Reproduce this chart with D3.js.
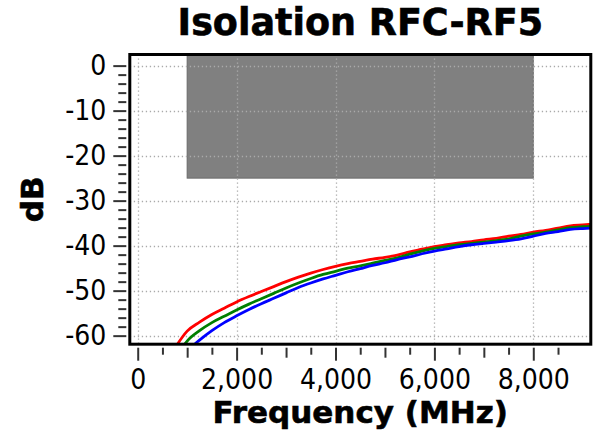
<!DOCTYPE html>
<html>
<head>
<meta charset="utf-8">
<script src="https://cdn.jsdelivr.net/npm/d3@7"></script>
<style>
  html, body { margin: 0; padding: 0; background: #fff; }
  svg { display: block; }
  .tick-label { font-family: 'DejaVu Sans Condensed', 'DejaVu Sans', sans-serif; font-stretch: condensed; font-size: 28px; fill: #000; }
  .title { font-family: 'DejaVu Sans', sans-serif; font-weight: bold; fill: #000; stroke: #000; stroke-width: 0.6px; }
</style>
</head>
<body>
<script>
// Measured isolation (dB) versus frequency (MHz) for three paths
const freqRed = [750, 1000, 1250, 1500, 1750, 2000, 2250, 2500, 2750, 3000, 3250, 3500, 3750, 4000, 4250, 4500, 4750, 5000, 5250, 5500, 5750, 6000, 6250, 6500, 6750, 7000, 7250, 7500, 7750, 8000, 8250, 8500, 8750, 9000, 9250];
const isoRed = [-62.8, -59.0, -57.0, -55.3, -53.9, -52.5, -51.3, -50.2, -49.1, -48.0, -47.0, -46.1, -45.3, -44.6, -44.0, -43.5, -43.0, -42.6, -42.1, -41.4, -40.8, -40.2, -39.8, -39.4, -39.1, -38.7, -38.4, -37.9, -37.5, -37.0, -36.6, -36.1, -35.6, -35.4, -35.2];

const freqGreen = [900, 1000, 1250, 1500, 1750, 2000, 2250, 2500, 2750, 3000, 3250, 3500, 3750, 4000, 4250, 4500, 4750, 5000, 5250, 5500, 5750, 6000, 6250, 6500, 6750, 7000, 7250, 7500, 7750, 8000, 8250, 8500, 8750, 9000, 9250];
const isoGreen = [-62.6, -61.2, -58.9, -57.1, -55.7, -54.3, -53.0, -51.8, -50.6, -49.4, -48.3, -47.3, -46.4, -45.7, -45.0, -44.5, -43.9, -43.3, -42.7, -41.9, -41.2, -40.6, -40.2, -39.8, -39.5, -39.2, -38.9, -38.5, -37.9, -37.4, -37.0, -36.5, -36.0, -35.8, -35.7];

const freqBlue = [1100, 1250, 1500, 1750, 2000, 2250, 2500, 2750, 3000, 3250, 3500, 3750, 4000, 4250, 4500, 4750, 5000, 5250, 5500, 5750, 6000, 6250, 6500, 6750, 7000, 7250, 7500, 7750, 8000, 8250, 8500, 8750, 9000, 9250];
const isoBlue = [-62.4, -61.0, -58.9, -57.1, -55.6, -54.2, -52.9, -51.7, -50.5, -49.3, -48.3, -47.4, -46.6, -45.8, -45.1, -44.4, -43.8, -43.1, -42.5, -41.8, -41.2, -40.7, -40.2, -39.8, -39.5, -39.2, -38.9, -38.5, -37.9, -37.3, -36.9, -36.4, -36.2, -36.1];

// Shaded specification region: frequency span and isolation limit
const bandFreq = [1000, 8000];
const bandLevel = [3, -25];

// Axis ticks
const xMajorTicks = [0, 2000, 4000, 6000, 8000];
const xTickLabels = ["0", "2,000", "4,000", "6,000", "8,000"];
const xMidTicks = [1000, 3000, 5000, 7000];
const xMinorTicks = [500, 1500, 2500, 3500, 4500, 5500, 6500, 7500, 8500];
const yMajorTicks = [0, -10, -20, -30, -40, -50, -60];
const yTickLabels = ["0", "-10", "-20", "-30", "-40", "-50", "-60"];
const yMinorTicks = [-2, -4, -6, -8, -12, -14, -16, -18, -22, -24, -26, -28, -32, -34, -36, -38, -42, -44, -46, -48, -52, -54, -56, -58];

const W = 595, H = 440;
const plot = { left: 129.8, right: 590.8, top: 54.5, bottom: 344.2 };

const svg = d3.select("body").append("svg").attr("width", W).attr("height", H);

const x = d3.scaleLinear().domain([-160, 9163]).range([plot.left, plot.right]);
const y = d3.scaleLinear().domain([-61.9, 2.47]).range([plot.bottom, plot.top]);

svg.append("defs").append("clipPath").attr("id", "plot-clip")
  .append("rect")
  .attr("x", plot.left).attr("y", plot.top)
  .attr("width", plot.right - plot.left).attr("height", plot.bottom - plot.top);

const inner = svg.append("g").attr("clip-path", "url(#plot-clip)");

// Specification band
inner.append("rect")
  .attr("x", x(bandFreq[0]))
  .attr("y", y(bandLevel[0]))
  .attr("width", x(bandFreq[1]) - x(bandFreq[0]))
  .attr("height", y(bandLevel[1]) - y(bandLevel[0]))
  .attr("fill", "#808080")
  .attr("stroke", "#6a6a6a")
  .attr("stroke-width", 1);

// Dotted grid
const grid = inner.append("g")
  .attr("stroke", "#aaaaaa")
  .attr("stroke-width", 1.3)
  .attr("stroke-dasharray", "1.3,2.7");
grid.selectAll("line.gx").data(xMajorTicks).join("line")
  .attr("class", "gx")
  .attr("x1", d => Math.round(x(d)) + 0.5).attr("x2", d => Math.round(x(d)) + 0.5)
  .attr("y1", plot.top).attr("y2", plot.bottom);
grid.selectAll("line.gy").data(yMajorTicks).join("line")
  .attr("class", "gy")
  .attr("y1", d => Math.round(y(d)) + 0.5).attr("y2", d => Math.round(y(d)) + 0.5)
  .attr("x1", plot.left).attr("x2", plot.right);

// Measured curves
const series = [
  { f: freqRed, v: isoRed, color: "#ff0000" },
  { f: freqGreen, v: isoGreen, color: "#008000" },
  { f: freqBlue, v: isoBlue, color: "#0000ff" }
];
const line = d3.line().x(d => x(d[0])).y(d => y(d[1])).curve(d3.curveMonotoneX);
series.forEach(s => {
  inner.append("path")
    .datum(d3.zip(s.f, s.v))
    .attr("d", line)
    .attr("fill", "none")
    .attr("stroke", s.color)
    .attr("stroke-width", 2.8)
    .attr("stroke-linejoin", "round");
});

// Frame
svg.append("rect")
  .attr("x", plot.left).attr("y", plot.top)
  .attr("width", plot.right - plot.left).attr("height", plot.bottom - plot.top)
  .attr("fill", "none").attr("stroke", "#000").attr("stroke-width", 3);

// Y axis (ticks set off from the frame)
const yAxisMajor = d3.axisLeft(y).tickValues(yMajorTicks).tickSize(13).tickPadding(7)
  .tickFormat((d, i) => yTickLabels[i]);
const yAxisMinor = d3.axisLeft(y).tickValues(yMinorTicks).tickSize(8).tickFormat("");
const gyMinor = svg.append("g").attr("transform", `translate(${plot.left - 3.5},0)`).call(yAxisMinor);
const gyMajor = svg.append("g").attr("transform", `translate(${plot.left - 3.5},0)`).call(yAxisMajor);

// X axis
const xAxisMajor = d3.axisBottom(x).tickValues(xMajorTicks).tickSize(13).tickPadding(8)
  .tickFormat((d, i) => xTickLabels[i]);
const xAxisMid = d3.axisBottom(x).tickValues(xMidTicks).tickSize(10).tickFormat("");
const xAxisMinor = d3.axisBottom(x).tickValues(xMinorTicks).tickSize(7).tickFormat("");
const axisY0 = plot.bottom + 3.5;
const gxMinor = svg.append("g").attr("transform", `translate(0,${axisY0})`).call(xAxisMinor);
const gxMid = svg.append("g").attr("transform", `translate(0,${axisY0})`).call(xAxisMid);
const gxMajor = svg.append("g").attr("transform", `translate(0,${axisY0})`).call(xAxisMajor);

[gyMinor, gyMajor, gxMinor, gxMid, gxMajor].forEach(g => {
  g.select(".domain").remove();
  g.selectAll(".tick line").attr("stroke", "#333").attr("stroke-width", 2);
  g.selectAll(".tick text").attr("class", "tick-label").attr("font-family", null).attr("font-size", null);
});
gxMajor.selectAll(".tick text").attr("dy", "0.71em");

// Titles
svg.append("text")
  .attr("class", "title")
  .attr("x", (plot.left + plot.right) / 2)
  .attr("y", 35)
  .attr("text-anchor", "middle")
  .attr("font-size", 36.5)
  .text("Isolation RFC-RF5");

svg.append("text")
  .attr("class", "title")
  .attr("x", (plot.left + plot.right) / 2)
  .attr("y", 423)
  .attr("text-anchor", "middle")
  .attr("font-size", 31)
  .text("Frequency (MHz)");

svg.append("text")
  .attr("class", "title")
  .attr("transform", `translate(43,${(plot.top + plot.bottom) / 2}) rotate(-90)`)
  .attr("text-anchor", "middle")
  .attr("font-size", 31)
  .text("dB");
</script>
</body>
</html>
